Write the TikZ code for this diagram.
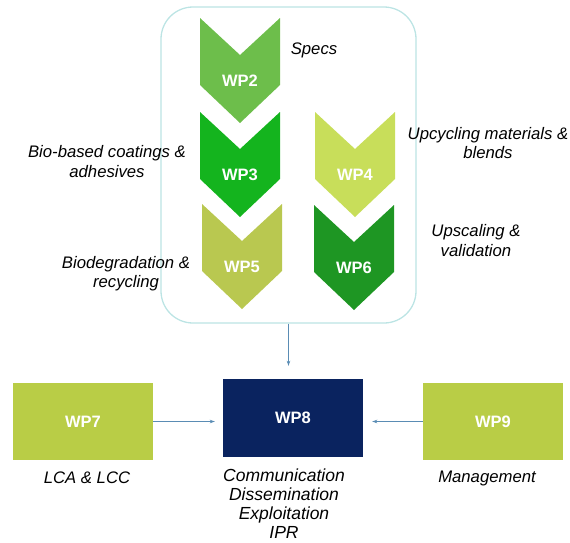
\documentclass[tikz,border=0pt]{standalone}
\usepackage{fontspec}
\setmainfont{Liberation Sans}
\usetikzlibrary{arrows.meta}
\definecolor{wpA}{HTML}{6DBE4B}
\definecolor{wpB}{HTML}{14B41E}
\definecolor{wpC}{HTML}{C8DE5A}
\definecolor{wpD}{HTML}{B9C850}
\definecolor{wpE}{HTML}{1E9623}
\definecolor{wpbox}{HTML}{B9CD46}
\definecolor{wpnavy}{HTML}{0A235F}
\definecolor{frameline}{HTML}{BCE4E4}
\definecolor{arrline}{HTML}{5A8CB4}
\tikzset{
	wptext/.style={text=white, font=\fontsize{16.5}{19}\selectfont\bfseries},
	desc/.style={align=center, font=\fontsize{16.7}{19.5}\selectfont\itshape},
	wpblock/.style={minimum width=140pt, minimum height=77pt, inner sep=0pt},
	arr/.style={draw=arrline, line width=0.8pt, -{Stealth[length=5pt,width=3.5pt]}}
}
\newcommand{\wpchevron}[5]{
	\fill[#4] (#2,#3) -- ++(40,37) -- ++(40,-37) -- ++(0,67) -- ++(-40,38) -- ++(-40,-38) -- cycle;
	\node[wptext] (#1) at ({#2+40},{#3+63}) {#5};
}

\begin{document}
\begin{tikzpicture}[x=1pt, y=-1pt]
	\useasboundingbox (0,0) rectangle (570,542);
	\node[draw=frameline, line width=1.3pt, rounded corners=32pt, minimum width=255pt, minimum height=316pt] (frame) at (288.5,165) {};
	\wpchevron{wp2}{200}{18}{wpA}{WP2}
	\wpchevron{wp3}{200}{112}{wpB}{WP3}
	\wpchevron{wp4}{315}{112}{wpC}{WP4}
	\wpchevron{wp5}{202}{204}{wpD}{WP5}
	\wpchevron{wp6}{314}{205}{wpE}{WP6}
	\node[desc] (specs) at (314,50) {Specs};
	\node[desc] (coat) at (107,161.5) {Bio-based coatings \&\\adhesives};
	\node[desc] (upcyc) at (488,143) {Upcycling materials \&\\blends};
	\node[desc] (biodeg) at (126,273.5) {Biodegradation \&\\recycling};
	\node[desc] (upscal) at (476,240.5) {Upscaling \&\\validation};
	\node[wpblock, fill=wpbox] (wp7) at (83,421.5) {};
	\node[wptext] at (wp7) {WP7};
	\node[wpblock, fill=wpnavy, minimum height=78pt] (wp8) at (293,418) {};
	\node[wptext] at (wp8) {WP8};
	\node[wpblock, fill=wpbox] (wp9) at (493,421.5) {};
	\node[wptext] at (wp9) {WP9};
	\node[desc] (lca) at (87,478) {LCA \& LCC};
	\node[desc, inner sep=0pt, font=\fontsize{17.5}{19.2}\selectfont\itshape] (comm) at (284,503.5) {Communication\\Dissemination\\Exploitation\\IPR};
	\node[desc] (mgmt) at (487,478) {Management};
	\draw[arr, shorten >=13pt] (frame.south) -- (frame.south |- wp8.north);
	\draw[arr, shorten >=8pt] (wp7.east) -- (wp7.east -| wp8.west);
	\draw[arr, shorten >=9pt] (wp9.west) -- (wp9.west -| wp8.east);
\end{tikzpicture}
\end{document}
